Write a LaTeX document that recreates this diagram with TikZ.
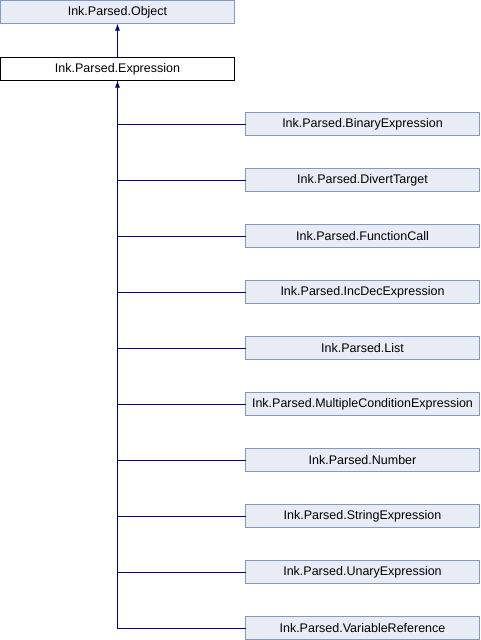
\documentclass[tikz,border=0pt]{standalone}
\usepackage{fontspec}
\setmainfont{Liberation Sans}
\usetikzlibrary{positioning,arrows.meta}
\definecolor{boxfill}{RGB}{232,236,245}
\definecolor{boxline}{RGB}{132,152,200}
\definecolor{linkblue}{RGB}{0,0,128}
\tikzset{
classbox/.style={
  draw=boxline,
  fill=boxfill,
  line width=1pt,
  minimum width=234pt,
  minimum height=23pt,
  inner sep=0pt,
  outer sep=0pt,
  anchor=north west,
  font=\fontsize{12.5}{15}\selectfont
  },
curbox/.style={classbox, draw=black, fill=white},
inherit/.style={draw=linkblue, line width=1pt},
inherittip/.style={inherit, -{Latex[length=7pt,width=5pt]}}
}

\begin{document}
\begin{tikzpicture}[x=1pt,y=-1pt]
  \useasboundingbox (0,0) rectangle (480,640);

  \node[classbox] (obj)  at (0.5,0.5)  {Ink.Parsed.Object};
  \node[curbox]   (expr) at (0.5,57.5) {Ink.Parsed.Expression};

  \node[classbox] (binexpr)  at (245.5,112.5) {Ink.Parsed.BinaryExpression};
  \node[classbox, below=33pt of binexpr.south west, anchor=north west] (divert)   {Ink.Parsed.DivertTarget};
  \node[classbox, below=33pt of divert.south west, anchor=north west]  (funccall) {Ink.Parsed.FunctionCall};
  \node[classbox, below=33pt of funccall.south west, anchor=north west] (incdec)  {Ink.Parsed.IncDecExpression};
  \node[classbox, below=33pt of incdec.south west, anchor=north west]  (list)     {Ink.Parsed.List};
  \node[classbox, below=33pt of list.south west, anchor=north west]    (multicond) {Ink.Parsed.MultipleConditionExpression};
  \node[classbox, below=33pt of multicond.south west, anchor=north west] (number) {Ink.Parsed.Number};
  \node[classbox, below=33pt of number.south west, anchor=north west]  (strexpr)  {Ink.Parsed.StringExpression};
  \node[classbox, below=33pt of strexpr.south west, anchor=north west] (unexpr)   {Ink.Parsed.UnaryExpression};
  \node[classbox, below=33pt of unexpr.south west, anchor=north west]  (varref)   {Ink.Parsed.VariableReference};

  % base class
  \draw[inherittip] (expr.north) -- (obj.south);

  % derived classes
  \draw[inherittip] (varref.west) -| (expr.south);
  \draw[inherit] (binexpr.west)   -| (expr.south);
  \draw[inherit] (divert.west)    -| (expr.south);
  \draw[inherit] (funccall.west)  -| (expr.south);
  \draw[inherit] (incdec.west)    -| (expr.south);
  \draw[inherit] (list.west)      -| (expr.south);
  \draw[inherit] (multicond.west) -| (expr.south);
  \draw[inherit] (number.west)    -| (expr.south);
  \draw[inherit] (strexpr.west)   -| (expr.south);
  \draw[inherit] (unexpr.west)    -| (expr.south);

\end{tikzpicture}
\end{document}
